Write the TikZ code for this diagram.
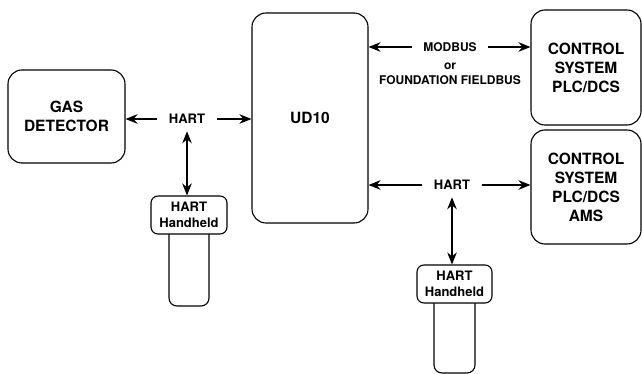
\documentclass[tikz,border=0pt]{standalone}
\usepackage{fontspec}
\setmainfont{TeX Gyre Heros}
\usetikzlibrary{positioning,arrows.meta}

\begin{document}
\begin{tikzpicture}[x=1pt,y=-1pt,>={Stealth[length=12pt,width=9.5pt]},line width=1.1pt]
    \tikzset{
        unit/.style={draw,rounded corners=14pt,align=center,inner sep=0pt,
            font=\fontsize{15.5}{19}\bfseries\selectfont},
        link/.style={align=center,inner xsep=11pt,inner ysep=7pt,
            font=\fontsize{13}{16}\bfseries\selectfont},
        bus/.style={align=center,inner xsep=11pt,inner ysep=1pt,
            font=\fontsize{12}{15.5}\bfseries\selectfont},
        head/.style={draw,fill=white,rounded corners=7pt,align=center,inner sep=0pt,
            minimum height=38pt,font=\fontsize{13}{15.5}\bfseries\selectfont},
        grip/.style={draw,rounded corners=8pt,inner sep=0pt}
    }
    \useasboundingbox (0,0) rectangle (642,374);

    % main units
    \node[unit,minimum width=117pt,minimum height=93pt] (gas) at (66.5,116.5) {GAS\\DETECTOR};
    \node[unit,minimum width=116pt,minimum height=210pt] (ud) at (310,118) {UD10};
    \node[unit,minimum width=110pt,minimum height=115pt] (cs1) at (586,67.5)
        {CONTROL\\SYSTEM\\PLC/DCS};
    \node[unit,minimum width=110pt,minimum height=114pt] (cs2) at (586,187)
        {CONTROL\\SYSTEM\\PLC/DCS\\AMS};

    % handhelds: grip first, head drawn over it
    \node[grip,minimum width=40pt,minimum height=86pt] (grip1) at (189,263) {};
    \node[head,minimum width=76pt] (hh1) at (189,215) {HART\\Handheld};
    \node[grip,minimum width=41pt,minimum height=83pt] (grip2) at (454.5,331.5) {};
    \node[head,minimum width=75pt] (hh2) at (454.5,284) {HART\\Handheld};

    % link labels
    \node[link] (hart1) at (187,119) {HART};
    \node[link] (hart2) at (452,185) {HART};
    \node[bus] (mb) at (450,47) {MODBUS};
    \node[bus,below=8pt of mb] (ff) {or\\FOUNDATION FIELDBUS};

    % connectors
    \draw[->] (hart1.west) -- (gas.east |- hart1.west);
    \draw[->] (hart1.east) -- (ud.west |- hart1.east);
    \draw[<->] (hart1.south) -- (hart1.south |- hh1.north);
    \draw[->] (mb.west) -- (ud.east |- mb.west);
    \draw[->] (mb.east) -- (cs1.west |- mb.east);
    \draw[->] (hart2.west) -- (ud.east |- hart2.west);
    \draw[->] (hart2.east) -- (cs2.west |- hart2.east);
    \draw[<->] (hart2.south) -- (hart2.south |- hh2.north);
\end{tikzpicture}
\end{document}
